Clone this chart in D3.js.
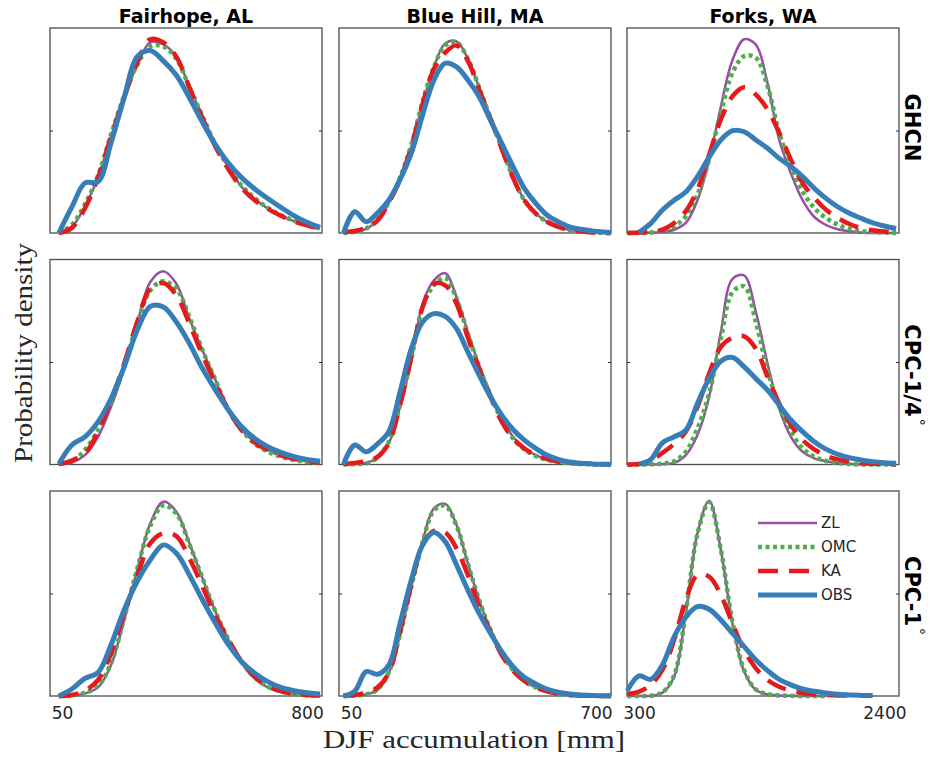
<!DOCTYPE html>
<html>
<head>
<meta charset="utf-8">
<script src="https://cdn.jsdelivr.net/npm/d3@7"></script>
<style>
  body { margin: 0; background: #fff; }
  svg { display: block; }
</style>
</head>
<body>
<svg id="chart" width="930" height="762"></svg>
<script>
// stations (columns), gridded products (rows), methods (curves)
var stations = ["Fairhope, AL", "Blue Hill, MA", "Forks, WA"];
var products = ["GHCN", "CPC-1/4°", "CPC-1°"];
var methods = ["ZL", "OMC", "KA", "OBS"];

// x limits and the two labelled ticks for each station [mm]
var xLimits = [[13, 846], [18, 740], [197, 2525]];
var xTickValues = [[50, 800], [50, 700], [300, 2400]];

// accumulation values where the densities were read [mm]
var gridFairhope = [40, 80, 120, 160, 200, 240, 280, 320, 360, 400, 440, 480, 520, 560, 600, 640, 680, 720, 760, 800, 840];
var gridBlueHill = [30, 60, 90, 120, 150, 180, 210, 240, 270, 300, 330, 360, 390, 420, 450, 480, 510, 540, 570, 600, 630, 660, 690, 720, 740];
var gridForks = [200, 300, 400, 500, 600, 700, 800, 900, 1000, 1100, 1200, 1300, 1400, 1500, 1600, 1700, 1800, 1900, 2000, 2100, 2200, 2300, 2400, 2500];

// probability density, scaled so that 100 = top of the panel
// each list: [Fairhope, Blue Hill, Forks]
var zlGHCN = [
  [0, 3, 13, 27, 47, 66, 82, 93, 92, 86, 71, 57, 43, 32, 22.5, 16.5, 12, 8.5, 5.8, 3.8, 2.2],
  [0, 0.5, 2, 6, 14.6, 26, 42, 63, 81, 92.5, 93.5, 85, 71, 56.7, 42, 27.5, 16, 9.6, 5.5, 3, 1.5, 0.8, 0.3, 0.1, 0],
  [0, 0, 0.2, 0.5, 1.6, 4.9, 16, 35.5, 61.6, 84.4, 94.5, 91.9, 73, 45.4, 29.1, 16, 7.8, 3.9, 1.8, 0.8, 0.3, 0, 0, 0]
];
var omcGHCN = [
  [0, 4, 14, 28, 48, 67, 82, 91, 91, 85, 71, 57, 43, 32, 23, 17, 12.3, 8.8, 6, 3.9, 2.2],
  [0, 0.6, 2.2, 6.5, 15, 27, 43, 64, 81, 91.5, 93, 85, 71, 56, 41.5, 27, 16, 9.6, 5.5, 3, 1.5, 0.8, 0.3, 0.1, 0],
  [0, 0, 0.2, 1.1, 3.3, 8.1, 18.7, 35.8, 58.6, 78.2, 86.3, 85.5, 71.6, 48.8, 32.5, 20.3, 12.2, 7.3, 4.1, 2, 1, 0.5, 0.2, 0]
];
var kaGHCN = [
  [0, 2.5, 12, 27, 47, 66, 83, 94.5, 93, 86, 71, 56, 42, 31, 22, 16, 11.8, 8.4, 5.7, 3.7, 2.1],
  [0.5, 1, 2.5, 6, 14.6, 26, 42, 63, 80, 88, 91.5, 84, 70, 56, 41, 27, 16, 9.6, 5.5, 3, 1.5, 0.8, 0.3, 0.1, 0],
  [0, 0.2, 0.5, 1.6, 4.9, 10.6, 21.2, 38.2, 55.3, 66.7, 71.1, 67.5, 60.2, 48.8, 35.8, 24.4, 17.1, 11.4, 7.3, 4.4, 2.4, 1.3, 0.7, 0.3]
];
var obsGHCN = [
  [0, 12.7, 24.4, 25, 44, 66, 86, 89, 84, 77, 66, 54, 43, 34, 27, 21.5, 16.8, 12.5, 8.5, 5.2, 2.7],
  [0, 10.4, 5.5, 9.7, 16, 26, 39, 57.6, 74.6, 82.8, 81, 74.6, 66.5, 55, 43.7, 32.4, 21.8, 14.6, 8.8, 5.5, 3, 1.8, 1, 0.5, 0.3],
  [null, 0.3, 4.7, 11.2, 16, 20, 27.5, 37, 45.4, 49.9, 49.4, 45.4, 41.3, 36.4, 32.4, 27.5, 21.8, 16.9, 12.8, 9.6, 7.2, 5, 3.4, 2.1]
];

var zlCPCquarter = [
  [0.2, 1, 4.6, 13.5, 28.1, 46.8, 68.7, 89, 94.3, 88.2, 71.1, 55.7, 41.1, 25.7, 16.8, 11.1, 7.1, 4.1, 2.5, 1.4, 0.9],
  [0, 0.2, 0.8, 3, 10.3, 28.1, 50.9, 78.4, 89.8, 93.3, 81.7, 64.6, 48.4, 34.6, 22.5, 13.5, 7.9, 4.6, 2.5, 1.2, 0.6, 0.3, 0.1, 0, 0],
  [0, 0, 0, 0.2, 0.8, 4.6, 14.4, 33, 64.6, 90.6, 92.2, 74.4, 49.2, 27.3, 13.5, 6.2, 3, 1.6, 0.7, 0.3, 0, 0, 0, 0]
];
var omcCPCquarter = [
  [0.2, 1.7, 7.1, 16.8, 29.8, 47.6, 68.7, 84.9, 89.4, 85.7, 71.9, 55.7, 41.1, 26.5, 16.8, 10.3, 6.2, 3.8, 2.2, 1.2, 0.7],
  [0, 0.2, 0.5, 3.5, 11, 29, 51.7, 76.8, 87.4, 91, 80.9, 63.8, 47.6, 33.8, 21.7, 12.7, 7.4, 4.2, 2.3, 1.2, 0.6, 0.3, 0.1, 0, 0],
  [0, 0, 0.1, 0.4, 1.6, 6.2, 17.6, 34.6, 61.4, 84.1, 86.9, 69.5, 46, 28.1, 16, 7.9, 3.8, 1.7, 0.7, 0.3, 0, 0, 0, 0]
];
var kaCPCquarter = [
  [0.2, 1.9, 5.4, 16, 31.4, 49.2, 69.5, 85.7, 88.5, 82.5, 68.7, 53.3, 39.5, 26.5, 16.8, 10.6, 7.1, 4.5, 2.8, 1.7, 0.9],
  [0.2, 0.8, 1.6, 3.7, 10.3, 29, 52.5, 76.8, 88.2, 87.4, 78.4, 61.9, 46.8, 33, 20.9, 12.7, 7.9, 4.6, 2.7, 1.5, 0.8, 0.5, 0.3, 0.1, 0],
  [0, 0.2, 1.8, 5.7, 10, 16, 28.1, 44.4, 57.3, 61.9, 62.5, 56.5, 42.7, 29.8, 19.2, 11.9, 7.4, 4.3, 2.5, 1.4, 0.7, 0.4, 0.2, 0.1]
];
var obsCPCquarter = [
  [0.2, 9.5, 13.5, 20.8, 32.2, 47.6, 65.5, 77.1, 76.8, 69.5, 59, 46.8, 36.3, 26.5, 18.4, 12.7, 8.7, 5.9, 3.8, 2.5, 1.6],
  [0.1, 9.5, 6.2, 10, 16, 35.4, 56.5, 69.5, 73.6, 72.3, 66.3, 54.9, 43.6, 33, 24.1, 17.1, 11.9, 7.9, 4.6, 2.5, 1.2, 0.6, 0.3, 0.1, 0.1],
  [null, 0.2, 2.4, 10.6, 13.5, 16.8, 29.8, 41.9, 50.4, 52.2, 47.6, 41.9, 36.3, 29, 21.7, 16, 11.1, 7.5, 5, 3.3, 2.2, 1.4, 0.9, 0.6]
];

var zlCPCone = [
  [0, 0.2, 1.3, 4.2, 15.1, 37, 61.5, 84.2, 94.8, 89.9, 74.5, 57.4, 41.1, 27.3, 16, 8.6, 4.2, 2, 0.8, 0.3, 0.2],
  [0, 0.2, 0.7, 2.9, 11.1, 29.8, 53.3, 75.3, 91.5, 93.7, 83.4, 64.7, 46.8, 32.2, 20.8, 12.7, 7.3, 4.2, 2.3, 1.1, 0.5, 0.2, 0.1, 0, 0],
  [0, 0, 0.1, 1.6, 9.4, 40.3, 79.4, 95.3, 71.2, 35.4, 11.9, 2.9, 0.8, 0.3, 0.1, 0, 0, 0, null, null, null, null, null, null]
];
var omcCPCone = [
  [0, 0.2, 1.6, 4.8, 16, 38, 62, 83, 93, 89, 74, 57.5, 41, 27.5, 16.5, 9, 4.5, 2.2, 0.9, 0.4, 0.2],
  [0, 0.2, 0.8, 3.1, 11.5, 30, 53.5, 75, 90.5, 92.8, 83, 64.5, 46.8, 32.2, 20.8, 12.7, 7.3, 4.2, 2.3, 1.1, 0.5, 0.2, 0.1, 0, 0],
  [0, 0, 0.1, 1.8, 10, 41, 79, 94.5, 71.5, 36, 12.5, 3.2, 0.9, 0.3, 0.1, 0, 0, 0, null, null, null, null, null, null]
];
var kaCPCone = [
  [0, 0.5, 2.6, 7.8, 20.8, 40.3, 58.2, 74.5, 79.4, 78, 67.2, 53.3, 38.7, 27.3, 16.7, 9.4, 4.9, 2.4, 1.1, 0.5, 0.2],
  [0.2, 0.5, 1.6, 4.2, 11.1, 31.4, 54.1, 73.7, 80.6, 79.8, 72, 59, 43.6, 31.4, 20, 12.4, 7.3, 4.2, 2.3, 1.1, 0.5, 0.2, 0.1, 0, 0],
  [1, 2.1, 5.4, 12.7, 27.3, 46.8, 59, 58.2, 49.3, 35.4, 22.4, 13.5, 7.8, 4.5, 2.6, 1.5, 0.8, 0.5, 0.3, 0.2, null, null, null, null]
];
var obsCPCone = [
  [0, 3.4, 8.6, 11.4, 25, 42, 55.8, 66.3, 73.7, 69.6, 59, 46.8, 35.4, 24.9, 16.7, 11.1, 7, 4.2, 2.6, 1.6, 1],
  [0, 2.4, 11.9, 10.6, 15.1, 35.4, 56.6, 73.7, 79.7, 75.3, 63.9, 51.7, 40.3, 30.6, 21.6, 14.3, 9.1, 5.9, 3.4, 1.8, 1, 0.5, 0.2, 0.1, 0.1],
  [2.6, 9.8, 8.1, 15.1, 28.9, 38.4, 43.6, 42.3, 37.1, 30.6, 24.1, 17.6, 12.4, 8.1, 5.4, 3.4, 2.3, 1.5, 0.8, 0.5, 0.3, 0.2, null, null]
];

// lookup tables built from the lists above
var grids = [gridFairhope, gridBlueHill, gridForks];
var densities = {
  ZL: [zlGHCN, zlCPCquarter, zlCPCone],
  OMC: [omcGHCN, omcCPCquarter, omcCPCone],
  KA: [kaGHCN, kaCPCquarter, kaCPCone],
  OBS: [obsGHCN, obsCPCquarter, obsCPCone]
};

var lineStyle = {
  ZL: { color: "#984ea3", width: 2.5, dash: null },
  OMC: { color: "#4daf4a", width: 4.5, dash: "4,3.5" },
  KA: { color: "#e41a1c", width: 4.5, dash: "20,11" },
  OBS: { color: "#377eb8", width: 5, dash: null }
};

var svg = d3.select("#chart");
var panelW = 272, panelH = 205;
var colLeft = [50, 339, 627];
var rowTop = [28, 259.5, 491];
var labelShift = [-3, 13, 2]; // row labels are not quite centred in the original
var sans = "'DejaVu Sans', sans-serif";
var serif = "'Liberation Serif', 'DejaVu Serif', serif";

products.forEach(function (prod, r) {
  stations.forEach(function (st, c) {
    var g = svg.append("g")
      .attr("transform", "translate(" + colLeft[c] + "," + rowTop[r] + ")");

    var x = d3.scaleLinear().domain(xLimits[c]).range([0, panelW]);
    var y = d3.scaleLinear().domain([0, 100]).range([panelH, 0]);

    // box
    g.append("rect")
      .attr("width", panelW)
      .attr("height", panelH)
      .attr("fill", "none")
      .attr("stroke", "#4d4d4d")
      .attr("stroke-width", 1.3);

    // single mid tick on both sides, pointing inward
    g.append("g")
      .style("color", "#262626")
      .call(d3.axisLeft(y).tickValues([50]).tickSize(-3).tickFormat(""))
      .call(function (a) { a.select(".domain").remove(); });
    g.append("g")
      .attr("transform", "translate(" + panelW + ",0)")
      .style("color", "#262626")
      .call(d3.axisRight(y).tickValues([50]).tickSize(-3).tickFormat(""))
      .call(function (a) { a.select(".domain").remove(); });

    var line = d3.line()
      .defined(function (d) { return d[1] != null; })
      .x(function (d) { return x(d[0]); })
      .y(function (d) { return y(d[1]); })
      .curve(d3.curveCatmullRom.alpha(0.5));

    methods.forEach(function (m) {
      var vals = densities[m][r][c];
      var pts = grids[c].map(function (v, i) { return [v, vals[i]]; });
      var s = lineStyle[m];
      g.append("path")
        .datum(pts)
        .attr("d", line)
        .attr("fill", "none")
        .attr("stroke", s.color)
        .attr("stroke-width", s.width)
        .attr("stroke-dasharray", s.dash)
        .attr("stroke-linejoin", "round");
    });

    // column titles
    if (r === 0) {
      g.append("text")
        .attr("x", panelW / 2)
        .attr("y", -5)
        .attr("text-anchor", "middle")
        .style("font-family", sans)
        .style("font-weight", "bold")
        .style("font-size", "19px")
        .text(st);
    }

    // x tick labels only under the bottom row
    if (r === 2) {
      g.append("g")
        .attr("transform", "translate(0," + panelH + ")")
        .style("color", "#262626")
        .call(d3.axisBottom(x).tickValues(xTickValues[c]).tickSize(0).tickPadding(11).tickFormat(d3.format("d")))
        .call(function (a) {
          a.select(".domain").remove();
          a.selectAll("text").style("font-family", sans).style("font-size", "17px");
        });
    }

    // row labels on the right
    if (c === 2) {
      var parts = prod.split("°");
      var t = svg.append("text")
        .attr("transform", "translate(905," + (rowTop[r] + panelH / 2 + labelShift[r]) + ") rotate(90)")
        .attr("text-anchor", "middle")
        .style("font-family", sans)
        .style("font-weight", "bold")
        .style("font-size", "21px")
        .text(parts[0]);
      if (parts.length > 1) {
        t.append("tspan")
          .attr("dx", 2)
          .attr("dy", -9)
          .style("font-weight", "normal")
          .style("font-size", "14px")
          .text("°");
      }
    }

    // legend in the last panel
    if (r === 2 && c === 2) {
      methods.forEach(function (m, i) {
        var s = lineStyle[m];
        var ly = 32 + i * 24;
        g.append("line")
          .attr("x1", 131).attr("x2", 190)
          .attr("y1", ly).attr("y2", ly)
          .attr("stroke", s.color)
          .attr("stroke-width", s.width)
          .attr("stroke-dasharray", s.dash);
        g.append("text")
          .attr("x", 194)
          .attr("y", ly)
          .attr("dy", "0.36em")
          .style("font-family", sans)
          .style("font-size", "15px")
          .style("fill", "#262626")
          .text(m);
      });
    }
  });
});

// shared axis titles
svg.append("text")
  .attr("x", 474)
  .attr("y", 748)
  .attr("text-anchor", "middle")
  .attr("textLength", 302)
  .attr("lengthAdjust", "spacingAndGlyphs")
  .style("font-family", serif)
  .style("font-size", "26px")
  .style("fill", "#262626")
  .text("DJF accumulation [mm]");

svg.append("text")
  .attr("transform", "translate(32,353) rotate(-90)")
  .attr("text-anchor", "middle")
  .attr("textLength", 220)
  .attr("lengthAdjust", "spacingAndGlyphs")
  .style("font-family", serif)
  .style("font-size", "26px")
  .style("fill", "#262626")
  .text("Probability density");
</script>
</body>
</html>
